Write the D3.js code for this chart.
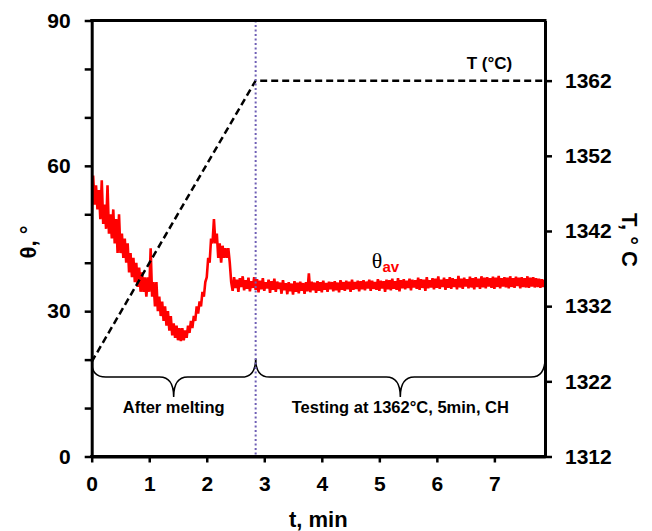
<!DOCTYPE html>
<html><head><meta charset="utf-8">
<script src="https://cdn.jsdelivr.net/npm/d3@7"></script>
<style>
body{margin:0;background:#fff}
svg{display:block}
text{font-family:"Liberation Sans",Arial,sans-serif;font-weight:bold;fill:#000}
</style>
</head><body>
<script>
// ---- data ----
const timeStep = 0.025; // sampling interval of the contact-angle record (min)
const thetaValues = [
50,58,52,56,51,55,49,57,48,52,
47,56,46,50,45,51,44,49,42,50,
42,46,41,45,40,44,38,42,37,41,
36,40,35,39,34,38,34,37,33,37,
34,43,33,36,31,36,30,33,29,32,
28,31,27,30,26,29,25,27.5,24.5,27,
24,26.5,23.8,26.5,24,26,24.5,27,25.5,28,
26.5,29,28,31,29.5,32,31,34,33,36,
37,41,40,45,44,49,44,46,41,44,
40,43.5,41,43,41,43,40,36,
34.2,37.0,34.8,36.5,34.0,36.8,35.0,37.2,34.3,36.4,
34.6,36.9,34.1,36.2,34.8,37.0,34.4,36.6,33.9,36.3,
34.5,36.8,34.2,36.0,34.7,36.5,33.8,36.2,34.4,36.7,
34.0,36.1,34.6,35.9,33.6,36.4,34.3,35.8,33.5,36.0,
34.1,35.7,33.4,36.2,34.0,35.9,33.7,36.1,34.2,35.8,
33.6,36.0,34.1,37.8,33.9,36.1,34.3,35.9,33.8,36.2,
34.2,36.0,33.9,36.3,34.4,35.8,34.0,36.1,34.5,36.0,
34.1,36.2,34.3,35.9,33.9,36.4,34.4,36.0,34.2,36.3,
34.5,36.1,34.0,36.5,34.4,36.0,34.6,36.3,34.1,36.2,
34.5,36.4,34.3,36.1,34.7,36.5,34.2,36.3,34.6,36.0,
34.4,36.6,34.2,36.3,34.7,36.2,34.0,36.5,34.5,36.4,
34.3,36.7,34.6,36.2,34.4,36.8,34.1,36.4,34.7,36.6,
34.5,36.3,34.8,36.7,34.3,36.5,34.9,36.4,34.6,36.9,
34.4,36.6,34.8,36.5,34.2,37.0,34.7,36.4,34.9,36.8,
34.5,36.7,34.8,37.2,34.6,36.5,35.0,36.9,34.4,36.6,
34.8,37.0,34.6,36.8,35.0,36.6,34.5,37.3,34.9,36.7,
34.6,36.9,35.1,36.6,34.7,37.1,34.9,36.8,34.5,37.0,
35.0,36.7,34.6,37.2,34.9,36.9,34.7,37.0,35.1,36.8,
34.8,37.1,34.6,36.9,35.0,37.3,34.7,36.8,35.1,37.0,
34.9,36.9,34.7,37.2,35.0,36.8,34.8,37.1,35.2,36.9,
34.7,37.0,35.0,36.8,34.9,37.2,34.8,36.9,35.1,37.0,
34.9,36.8,35.0,36.7,34.8,36.6,35.0,36.5
];
const tempTimes = [0, 2.85, 7.88];
const tempValues = [1324.6, 1362, 1362];
const xDomain = [0, 7.88];
const thetaDomain = [0, 90];
const tempDomain = [1312, 1370];
const xTicks = [0,1,2,3,4,5,6,7];
const leftTicks = [0,10,20,30,40,50,60,70,80,90];
const leftTickLabels = [0,30,60,90];
const rightTicks = [1312,1322,1332,1342,1352,1362];
const phaseBoundary = 2.85;
const phaseLabels = ["After melting", "Testing at 1362°C, 5min, CH"];

// ---- layout ----
const W = 652, H = 531;
const L = 91.7, R = 545, T = 20.5, B = 456.5;

const svg = d3.select("body").append("svg").attr("width", W).attr("height", H);
const x = d3.scaleLinear().domain(xDomain).range([L, R]);
const y = d3.scaleLinear().domain(thetaDomain).range([B, T]);
const y2 = d3.scaleLinear().domain(tempDomain).range([B, T]);

svg.append("clipPath").attr("id","clip").append("rect")
  .attr("x", L).attr("y", T).attr("width", R-L).attr("height", B-T);

// red theta record
const thetaPts = thetaValues.map((v,i)=>[i*timeStep, v]);
svg.append("path").attr("clip-path","url(#clip)")
  .datum(thetaPts)
  .attr("fill","none").attr("stroke","#ff0000").attr("stroke-width",2.6)
  .attr("stroke-linejoin","miter")
  .attr("d", d3.line().x(d=>x(d[0])).y(d=>y(d[1])));

// temperature dashed line
svg.append("path")
  .datum(tempTimes.map((t,i)=>[t, tempValues[i]]))
  .attr("fill","none").attr("stroke","#000").attr("stroke-width",2.5)
  .attr("stroke-dasharray","7,4")
  .attr("d", d3.line().x(d=>x(d[0])).y(d=>y2(d[1])));

// braces
function brace(x0, x1, yTop0, yTop1, yBar, yTip){
  const xm = (x0+x1)/2, r = 14;
  return `M${x0},${yTop0} Q${x0},${yBar} ${x0+r},${yBar} L${xm-r},${yBar} Q${xm},${yBar} ${xm},${yTip} `+
         `Q${xm},${yBar} ${xm+r},${yBar} L${x1-r},${yBar} Q${x1},${yBar} ${x1},${yTop1}`;
}
svg.append("path").attr("fill","none").attr("stroke","#000").attr("stroke-width",1.5)
  .attr("d", brace(x(0), x(phaseBoundary), y(19.5), y(20.2), y(16.4), y(12.3)));
svg.append("path").attr("fill","none").attr("stroke","#000").attr("stroke-width",1.5)
  .attr("d", brace(x(phaseBoundary), x(xDomain[1]), y(20.2), y(20.3), y(16.4), y(12.3)));

svg.append("text").attr("x", (x(0)+x(phaseBoundary))/2).attr("y", y(9.0))
  .attr("text-anchor","middle").style("font-size","16.5px").text(phaseLabels[0]);
svg.append("text").attr("x", (x(phaseBoundary)+x(xDomain[1]))/2).attr("y", y(9.0))
  .attr("text-anchor","middle").style("font-size","16.5px").text(phaseLabels[1]);

// vertical dotted boundary
svg.append("line")
  .attr("x1", x(phaseBoundary)).attr("x2", x(phaseBoundary))
  .attr("y1", T).attr("y2", B)
  .attr("stroke","#6f5fb5").attr("stroke-width",2).attr("stroke-dasharray","2,2.5");

// axes
const axL = svg.append("g").attr("transform",`translate(${L},0)`)
  .call(d3.axisLeft(y).tickValues(leftTicks).tickSize(7).tickSizeOuter(0).tickPadding(14)
    .tickFormat(d=>leftTickLabels.includes(d)?d:""));
const axB = svg.append("g").attr("transform",`translate(0,${B})`)
  .call(d3.axisBottom(x).tickValues(xTicks).tickSize(6).tickSizeOuter(0).tickPadding(14).tickFormat(d3.format("d")));
const axR = svg.append("g").attr("transform",`translate(${R},0)`)
  .call(d3.axisRight(y2).tickValues(rightTicks).tickSize(7).tickSizeOuter(0).tickPadding(13).tickFormat(d3.format("d")));
[axL, axB, axR].forEach(g=>{
  g.select(".domain").attr("stroke","#000").attr("stroke-width",3);
  g.selectAll(".tick line").attr("stroke","#000").attr("stroke-width",2.5);
  g.selectAll(".tick text").style("font-size","21px").style("font-family",'"Liberation Sans",Arial,sans-serif').style("font-weight","bold").attr("fill","#000");
});
// top border
svg.append("line").attr("x1", L-1.5).attr("x2", R+1.5).attr("y1", T).attr("y2", T)
  .attr("stroke","#000").attr("stroke-width",3);
svg.append("line").attr("x1", L-1.5).attr("x2", R+1.5).attr("y1", B).attr("y2", B)
  .attr("stroke","#000").attr("stroke-width",3);

// annotations
svg.append("text").attr("x", x(4.87)).attr("y", y(38.9))
  .style("font-family",'"Liberation Serif","Times New Roman",serif').style("font-weight","normal")
  .style("font-size","22px").attr("fill","#ff0000")
  .text("θ")
  .append("tspan").attr("dy", 4)
  .style("font-family",'"Liberation Sans",Arial,sans-serif').style("font-weight","bold")
  .style("font-size","15px").attr("fill","#ff0000").text("av");

svg.append("text").attr("x", x(6.52)).attr("y", y2(1363.6))
  .style("font-size","17px").text("T (°C)");

// axis titles
svg.append("text").attr("x", (L+R)/2).attr("y", 527).attr("text-anchor","middle")
  .style("font-size","22px").text("t, min");
svg.append("text").attr("transform", "translate(36,242) rotate(-90)")
  .attr("text-anchor","middle").style("font-size","22px").text("θ, °");
svg.append("text").attr("transform", "translate(622,240) rotate(90)")
  .attr("text-anchor","middle").style("font-size","22px").text("T, ° C");
</script>
</body></html>
